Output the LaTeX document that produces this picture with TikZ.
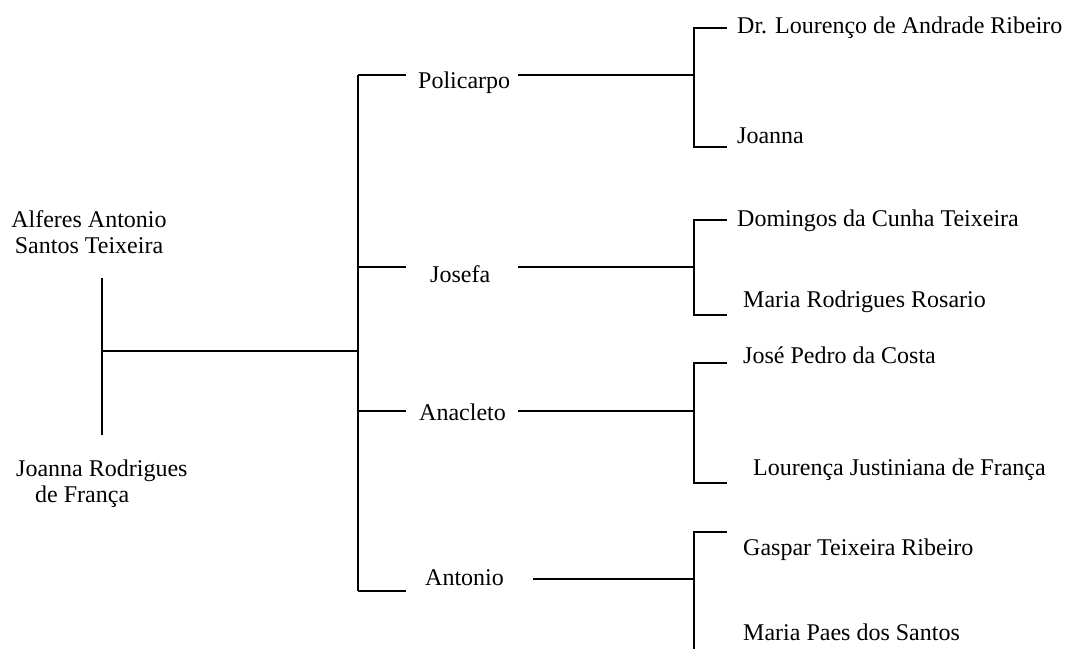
\documentclass[tikz,border=0pt]{standalone}
\usepackage{fontspec}
\setmainfont{Liberation Serif}
\begin{document}
\begin{tikzpicture}[x=1pt,y=-1pt,
  person/.style={anchor=base west,inner sep=0pt,font=\fontsize{24}{26}\selectfont},
  link/.style={line width=1.6pt,line cap=butt}]
\useasboundingbox (0,0) rectangle (1065,648);

% couple (base anchor of a two-line node sits on its last line)
\node[person,align=center,anchor=base] (father) at (89,253) {Alferes Antonio\\Santos Teixeira};
\node[person,align=left] (mother) at (16,502) {Joanna Rodrigues\\\hspace*{19pt}de França};

% children
\node[person] (pol) at (418,88) {Policarpo};
\node[person] (jos) at (430,282) {Josefa};
\node[person] (ana) at (419,420) {Anacleto};
\node[person] (ant) at (425,585) {Antonio};

% grandchildren / spouses
\node[person] (g1) at (737,33) {Dr. Lourenço de Andrade Ribeiro};
\node[person] (g2) at (737,143) {Joanna};
\node[person] (g3) at (737,226) {Domingos da Cunha Teixeira};
\node[person] (g4) at (743,307) {Maria Rodrigues Rosario};
\node[person] (g5) at (743,363) {José Pedro da Costa};
\node[person] (g6) at (753,475) {Lourença Justiniana de França};
\node[person] (g7) at (743,555) {Gaspar Teixeira Ribeiro};
\node[person] (g8) at (743,640) {Maria Paes dos Santos};

% junction points
\coordinate (cTop) at (102,278);
\coordinate (cBot) at (102,435);
\coordinate (cMid) at (102,351);
\coordinate (tMid) at (358,351);
\coordinate (tTop) at (358,75);
\coordinate (tBot) at (358,591);

\coordinate (polL) at (406,75);   \coordinate (polR) at (518,75);   \coordinate (polB) at (694,75);
\coordinate (josT) at (358,267);  \coordinate (josL) at (406,267);  \coordinate (josR) at (518,267);  \coordinate (josB) at (694,267);
\coordinate (anaT) at (358,411);  \coordinate (anaL) at (406,411);  \coordinate (anaR) at (518,411);  \coordinate (anaB) at (694,411);
\coordinate (antL) at (406,591);  \coordinate (antR) at (533,579);  \coordinate (antB) at (694,579);

\coordinate (b1t) at (694,28);  \coordinate (b1b) at (694,147);
\coordinate (e1t) at (727,28);  \coordinate (e1b) at (727,147);
\coordinate (b2t) at (694,220); \coordinate (b2b) at (694,315);
\coordinate (e2t) at (727,220); \coordinate (e2b) at (727,315);
\coordinate (b3t) at (694,363); \coordinate (b3b) at (694,483);
\coordinate (e3t) at (727,363); \coordinate (e3b) at (727,483);
\coordinate (b4t) at (694,532); \coordinate (b4b) at (694,650);
\coordinate (e4t) at (727,532);

% couple bar and trunk
\draw[link] (cTop) -- (cBot);
\draw[link] (cMid) -- (tMid);
\draw[link] (tTop) -- (tBot);

% children ticks
\draw[link] (tTop) -- (polL);
\draw[link] (josT) -- (josL);
\draw[link] (anaT) -- (anaL);
\draw[link] (tBot) -- (antL);

% lines to spouse brackets
\draw[link] (polR) -- (polB);
\draw[link] (josR) -- (josB);
\draw[link] (anaR) -- (anaB);
\draw[link] (antR) -- (antB);

% brackets
\draw[link] (e1t) -- (b1t) -- (b1b) -- (e1b);
\draw[link] (e2t) -- (b2t) -- (b2b) -- (e2b);
\draw[link] (e3t) -- (b3t) -- (b3b) -- (e3b);
\draw[link] (e4t) -- (b4t) -- (b4b);
\end{tikzpicture}
\end{document}
